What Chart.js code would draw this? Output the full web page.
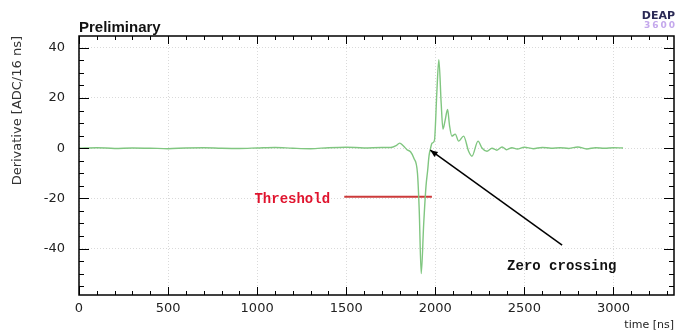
<!DOCTYPE html>
<html><head><meta charset="utf-8">
<script src="https://cdn.jsdelivr.net/npm/chart.js@4.4.1/dist/chart.umd.min.js"></script>
<style>html,body{margin:0;padding:0;background:#fff}</style>
</head><body>
<canvas id="c" width="681" height="334" style="width:681px;height:334px;display:block"></canvas>
<script>
// ---- data ----
const timeNs = [0,100,200,300,400,500,600,700,800,900,1000,1100,1200,1300,1400,1500,1600,1700,1750,1780,1800,1820,1841,1862,1880,1900,1910,1921,1935,1948,1957,1965,1972,1982,1995,2009,2020,2033,2043,2055,2069,2080,2093,2112,2131,2159,2187,2206,2240,2262,2290,2318,2346,2375,2400,2430,2460,2500,2550,2600,2650,2700,2750,2800,2850,2900,2950,3000,3054];
const derivative = [0,0.2,-0.1,0.1,0,-0.2,0.1,0.2,0,-0.1,0.1,0.3,0,-0.2,0.2,0.4,0.1,0.3,0.3,1.0,2.0,1.0,-0.6,-1.5,-4,-10,-25,-50,-30,-15,-9,-3,-0.5,2,3,22.7,35.3,18,7.6,11,15.4,9,4.8,5.6,2.8,4.8,-1.2,-3.2,2.8,0.1,-1.2,0,-0.8,0.5,-0.6,0.2,-0.3,0.4,-0.2,0.3,0,0.2,-0.1,0.5,-0.3,0.2,0,0.2,0.1];
const xTickValues = [0,500,1000,1500,2000,2500,3000];
const yTickValues = [-40,-20,0,20,40];
const thresholdTime = [1489,1981];
const thresholdLevel = [-19.4,-19.4];
const zeroCrossingPoint = [1972,-0.8];
const arrowTailPoint = [2712,-38.6];
const thresholdLabelAt = [1197,-20.6];
const zeroLabelAt = [2403,-47.3];

const signal = timeNs.map((t,i)=>({x:t,y:derivative[i]}));
const threshold = thresholdTime.map((t,i)=>({x:t,y:thresholdLevel[i]}));

const decor = {
  id:'decor',
  afterDraw(chart){
    const {ctx, chartArea:a, scales:{x,y}} = chart;
    ctx.save();
    // frame
    ctx.strokeStyle='#000'; ctx.lineWidth=1.5;
    ctx.strokeRect(a.left,a.top,a.right-a.left,a.bottom-a.top);
    ctx.lineWidth=1;
    ctx.beginPath();
    for(let v=0; v<=x.max; v+=100){
      const px=Math.round(x.getPixelForValue(v))+0.5;
      const L = (v%500===0)?8:4;
      ctx.moveTo(px,a.bottom); ctx.lineTo(px,a.bottom-L);
      ctx.moveTo(px,a.top); ctx.lineTo(px,a.top+L);
    }
    for(let v=-55; v<=y.max; v+=5){
      const py=Math.round(y.getPixelForValue(v))+0.5;
      const L = (v%20===0)?10:5;
      ctx.moveTo(a.left,py); ctx.lineTo(a.left+L,py);
      ctx.moveTo(a.right,py); ctx.lineTo(a.right-L,py);
    }
    ctx.stroke();

    // arrow
    const tx=x.getPixelForValue(arrowTailPoint[0]), ty=y.getPixelForValue(arrowTailPoint[1]);
    const hx=x.getPixelForValue(zeroCrossingPoint[0]), hy=y.getPixelForValue(zeroCrossingPoint[1]);
    ctx.strokeStyle='#000'; ctx.lineWidth=1.5;
    ctx.beginPath(); ctx.moveTo(tx,ty); ctx.lineTo(hx,hy); ctx.stroke();
    const ang=Math.atan2(hy-ty,hx-tx), hl=8, hw=0.4;
    ctx.fillStyle='#000';
    ctx.beginPath();
    ctx.moveTo(hx,hy);
    ctx.lineTo(hx-hl*Math.cos(ang-hw), hy-hl*Math.sin(ang-hw));
    ctx.lineTo(hx-hl*Math.cos(ang+hw), hy-hl*Math.sin(ang+hw));
    ctx.closePath(); ctx.fill();

    // annotation texts
    ctx.font='bold 14px "Liberation Mono"';
    ctx.textBaseline='middle';
    ctx.textAlign='center';
    ctx.fillStyle='#e0142e';
    ctx.fillText('Threshold', x.getPixelForValue(thresholdLabelAt[0]), y.getPixelForValue(thresholdLabelAt[1]));
    ctx.textAlign='left';
    ctx.fillStyle='#111';
    ctx.fillText('Zero crossing', x.getPixelForValue(zeroLabelAt[0]), y.getPixelForValue(zeroLabelAt[1]));

    // Preliminary
    ctx.font='bold 15px "Liberation Sans"';
    ctx.textAlign='left'; ctx.textBaseline='alphabetic';
    ctx.fillStyle='#111';
    ctx.fillText('Preliminary', a.left, a.top-4);

    // DEAP logo
    ctx.textAlign='right';
    ctx.font='bold 11px "DejaVu Sans"';
    ctx.fillStyle='#2b2a55';
    ctx.fillText('DEAP', 675, 19);
    ctx.font='bold 9px "DejaVu Sans"';
    ctx.fillStyle='#c4a8ec';
    ctx.letterSpacing='2px';
    ctx.fillText('3600', 677, 28);
    ctx.restore();
  }
};

new Chart(document.getElementById('c'), {
  type:'scatter',
  data:{datasets:[
    {data:signal, showLine:true, borderColor:'#80c680', borderWidth:1.4, pointRadius:0, cubicInterpolationMode:'monotone'},
    {data:threshold, showLine:true, borderColor:'#cc3a3a', borderWidth:2, pointRadius:0}
  ]},
  options:{
    responsive:false, animation:false, devicePixelRatio:1,
    layout:{padding:{top:36,right:7,left:0,bottom:0}},
    plugins:{legend:{display:false}, tooltip:{enabled:false}},
    scales:{
      x:{type:'linear', min:0, max:3340,
        afterBuildTicks:s=>{s.ticks=xTickValues.map(v=>({value:v}));},
        afterFit:s=>{s.height=39;},
        grid:{color:'#dadada', drawTicks:false, lineWidth:1},
        border:{display:false, dash:[1,2]},
        ticks:{font:{family:'DejaVu Sans', size:13}, color:'#222', padding:6, maxRotation:0, autoSkip:false, callback:v=>String(v)},
        title:{display:true, text:'time [ns]', align:'end', color:'#222', font:{family:'DejaVu Sans', size:11}, padding:{top:0,bottom:2}}
      },
      y:{type:'linear', min:-58.5, max:44.7,
        afterBuildTicks:s=>{s.ticks=yTickValues.map(v=>({value:v}));},
        afterFit:s=>{s.width=79;},
        grid:{color:'#dadada', drawTicks:false, lineWidth:1},
        border:{display:false, dash:[1,2]},
        ticks:{font:{family:'DejaVu Sans', size:13}, color:'#222', padding:14, autoSkip:false, callback:v=>String(v)},
        title:{display:true, text:'Derivative [ADC/16 ns]', align:'end', color:'#333', font:{family:'DejaVu Sans', size:13}, padding:{top:10,bottom:0}}
      }
    }
  },
  plugins:[decor]
});
</script>
</body></html>
